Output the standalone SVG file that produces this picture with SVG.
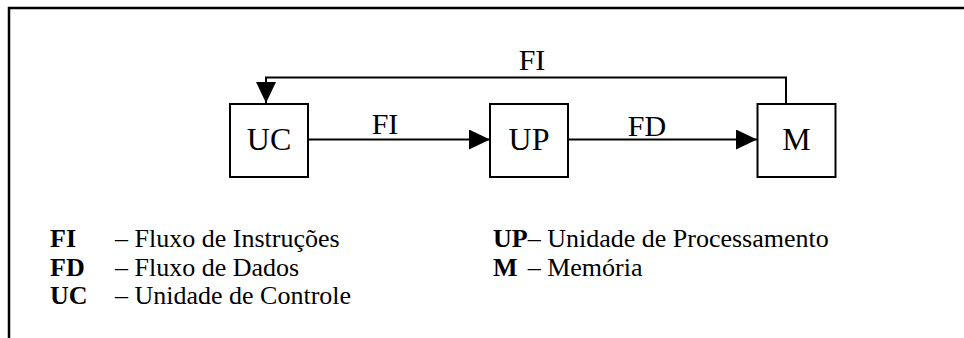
<svg xmlns="http://www.w3.org/2000/svg" width="964" height="338" viewBox="0 0 964 338">
<style>
text{font-family:"Liberation Serif","Times New Roman",serif;fill:#000}
.box{fill:#fff;stroke:#000;stroke-width:2}
.lbl{font-size:32px;text-anchor:middle}
.elbl{font-size:30px;text-anchor:middle}
.leg{font-size:26px}
.b{font-weight:bold}
.ln{fill:none;stroke:#000;stroke-width:2}
</style>
<defs>
<marker id="ah" markerWidth="22" markerHeight="20" refX="21" refY="10" orient="auto" markerUnits="userSpaceOnUse">
<path d="M0,0 L21,10 L0,20 Z" fill="#000"/>
</marker>
</defs>
<path d="M9,338 V8 H964" fill="none" stroke="#000" stroke-width="2.5"/>
<g id="connectors">
<path class="ln" d="M786,104 V77.5 H266 V103" marker-end="url(#ah)"/>
<line class="ln" x1="308" y1="139.5" x2="490" y2="139.5" marker-end="url(#ah)"/>
<line class="ln" x1="568" y1="139.5" x2="757" y2="139.5" marker-end="url(#ah)"/>
<text class="elbl" x="532" y="70">FI</text>
<text class="elbl" x="385" y="134">FI</text>
<text class="elbl" x="647" y="136">FD</text>
</g>
<g id="UC"><rect class="box" x="230" y="104" width="78" height="73"/><text class="lbl" x="269" y="150">UC</text></g>
<g id="UP"><rect class="box" x="490" y="104" width="78" height="73"/><text class="lbl" x="529" y="150">UP</text></g>
<g id="M"><rect class="box" x="757.5" y="104" width="78" height="73"/><text class="lbl" x="796.5" y="150">M</text></g>
<g id="legend" class="leg">
<text x="50" y="247" class="b">FI</text>
<text x="115" y="247">– Fluxo de Instruções</text>
<text x="50" y="275.5" class="b">FD</text>
<text x="115" y="275.5">– Fluxo de Dados</text>
<text x="50" y="304" class="b">UC</text>
<text x="115" y="304">– Unidade de Controle</text>
<text x="493" y="247"><tspan class="b">UP</tspan>– Unidade de Processamento</text>
<text x="493" y="275.5" class="b">M</text>
<text x="527.7" y="275.5">– Memória</text>
</g>
</svg>
